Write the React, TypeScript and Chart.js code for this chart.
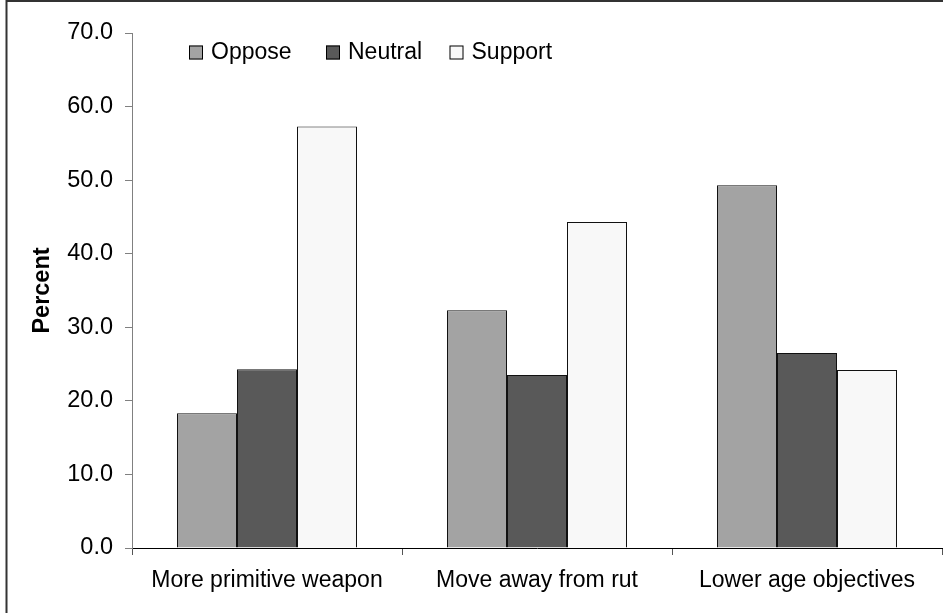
import React, { useEffect, useRef } from "react";
import { Chart, registerables } from "chart.js";

Chart.register(...registerables);

const categories = ["More primitive weapon", "Move away from rut", "Lower age objectives"];
const seriesNames = ["Oppose", "Neutral", "Support"];
const opposeValues = [18.3, 32.3, 49.3];
const neutralValues = [24.3, 23.5, 26.5];
const supportValues = [57.3, 44.3, 24.2];
const seriesColors = ["#a3a3a3", "#595959", "#f8f8f8"];

const FONT = "'Liberation Sans', Arial, sans-serif";

const framePlugin = {
  id: "frame",
  beforeDraw(chart: any) {
    const ctx = chart.ctx;
    ctx.save();
    ctx.fillStyle = "#ffffff";
    ctx.fillRect(0, 0, chart.width, chart.height);
    ctx.strokeStyle = "#333333";
    ctx.lineWidth = 2;
    ctx.beginPath();
    ctx.moveTo(6.5, chart.height);
    ctx.lineTo(6.5, 1);
    ctx.lineTo(chart.width, 1);
    ctx.stroke();
    ctx.restore();
  },
};

const legendPlugin = {
  id: "customLegend",
  afterDraw(chart: any) {
    const ctx = chart.ctx;
    const boxXs = [189, 326, 449.5];
    const boxY = 45.5;
    const box = 14;
    ctx.save();
    ctx.font = `23px ${FONT}`;
    ctx.textBaseline = "middle";
    ctx.textAlign = "left";
    chart.data.datasets.forEach((ds: any, i: number) => {
      const x = boxXs[i];
      ctx.fillStyle = ds.backgroundColor;
      ctx.fillRect(x, boxY, box, box);
      ctx.strokeStyle = "#000";
      ctx.lineWidth = 1;
      ctx.strokeRect(x + 0.5, boxY + 0.5, box - 1, box - 1);
      ctx.fillStyle = "#000";
      ctx.fillText(ds.label, x + 22, boxY + box / 2);
    });
    ctx.restore();
  },
};

export default function App() {
  const ref = useRef<HTMLCanvasElement | null>(null);
  useEffect(() => {
    if (!ref.current) return;
    const valuesList = [opposeValues, neutralValues, supportValues];
    const chart = new Chart(ref.current, {
      type: "bar",
      data: {
        labels: categories,
        datasets: seriesNames.map((name, i) => ({
          label: name,
          data: valuesList[i],
          backgroundColor: seriesColors[i],
          borderColor: "#111111",
          borderWidth: 1,
          categoryPercentage: 2 / 3,
          barPercentage: 1,
        })),
      },
      options: {
        responsive: false,
        animation: false,
        layout: { padding: { left: 0, top: 33, right: 1, bottom: 0 } },
        plugins: {
          legend: { display: false },
          tooltip: { enabled: false },
          title: { display: false },
        },
        scales: {
          x: {
            grid: {
              offset: true,
              drawOnChartArea: false,
              drawTicks: true,
              tickLength: 7,
              tickColor: "#555555",
            },
            border: { color: "#000000", width: 1 },
            ticks: {
              color: "#000",
              font: { family: FONT, size: 23 },
              padding: 12,
              maxRotation: 0,
              autoSkip: false,
            },
            afterFit(scale: any) {
              scale.height = 65;
            },
          },
          y: {
            min: 0,
            max: 70,
            grid: {
              drawOnChartArea: false,
              drawTicks: true,
              tickLength: 7,
              tickColor: "#808080",
            },
            border: { color: "#808080", width: 1 },
            ticks: {
              stepSize: 10,
              color: "#000",
              font: { family: FONT, size: 23.5 },
              padding: 12,
              callback: (v: any) => Number(v).toFixed(1),
            },
            title: {
              display: true,
              text: "Percent",
              color: "#000",
              font: { family: FONT, size: 23.5, weight: "bold" },
              padding: { top: 28, bottom: 0 },
            },
            afterFit(scale: any) {
              scale.width = 132;
            },
          },
        },
      },
      plugins: [framePlugin, legendPlugin],
    });
    return () => chart.destroy();
  }, []);
  return (
    <div style={{ position: "fixed", left: 0, top: 0, width: 943, height: 613, background: "#fff" }}>
      <canvas ref={ref} width={943} height={613} style={{ display: "block", width: 943, height: 613 }} />
    </div>
  );
}
